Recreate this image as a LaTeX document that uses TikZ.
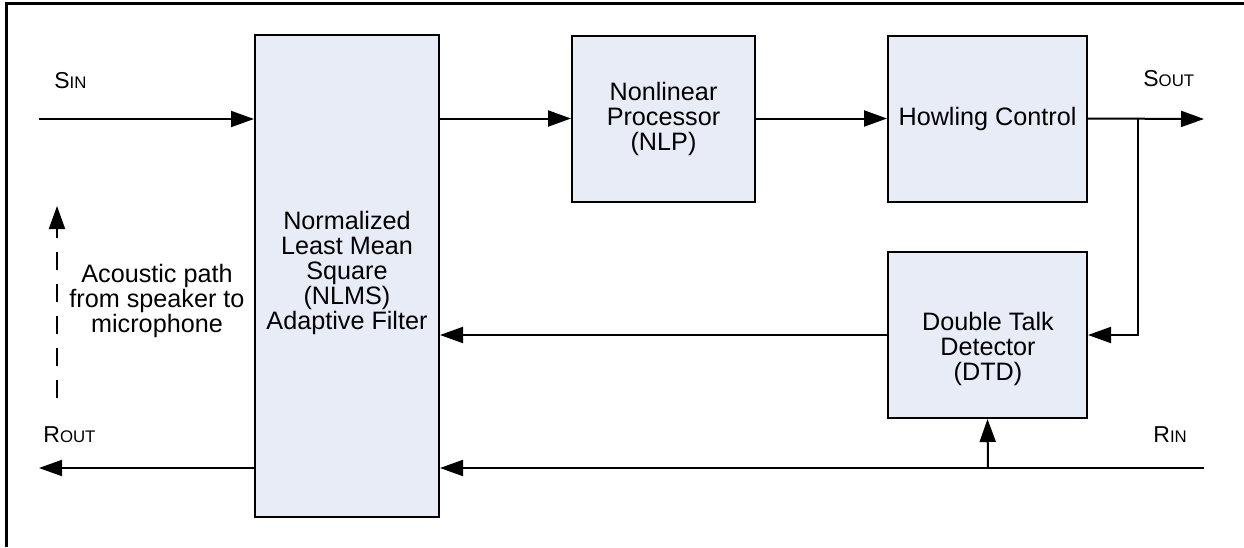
\documentclass[tikz,border=0pt]{standalone}
\usepackage{fontspec}
\setmainfont{Liberation Sans}
\usetikzlibrary{arrows.meta}
\definecolor{boxfill}{RGB}{232,236,247}
\begin{document}
\begin{tikzpicture}[x=0.5pt,y=-0.5pt,
  every node/.style={font=\fontsize{12.6}{12.5}\selectfont, inner sep=0pt},
  blk/.style={draw=black, line width=1pt, fill=boxfill, align=center},
  txt/.style={align=center},
  lbl/.style={anchor=base west, font=\fontsize{11.5}{12}\selectfont},
  conn/.style={line width=1pt, -{Triangle[length=11.5pt,width=8pt]}},
  frame/.style={line width=1.4pt}
]
\useasboundingbox (0,0) rectangle (1244,547);
% frame (left and top edges only visible)
\draw[frame] (6.5,547) -- (6.5,3.5) -- (1244,3.5);

% blocks
\node[blk, minimum width=92pt, minimum height=241pt] (nlms) at (347,276) {};
\node[txt] (nlmstext) at (347,273) {Normalized\\Least Mean\\Square\\(NLMS)\\Adaptive Filter};
\node[blk, minimum width=91.5pt, minimum height=83pt] (nlp) at (663.5,118.5) {Nonlinear\\Processor\\(NLP)};
\node[blk, minimum width=99.5pt, minimum height=83pt] (hc) at (987.5,118.5) {Howling Control};
\node[blk, minimum width=99.5pt, minimum height=83pt] (dtd) at (987.5,335) {};
\node[txt] (dtdtext) at (988,349) {Double Talk\\Detector\\(DTD)};

% acoustic path text
\node[txt] (acoustic) at (157,301) {Acoustic path\\from speaker to\\microphone};

% signal labels
\node[lbl] (sin) at (54,88) {S\fontsize{8.4}{10}\selectfont IN};
\node[lbl] (sout) at (1143,86) {S\fontsize{8.4}{10}\selectfont OUT};
\node[lbl] (rout) at (43,442) {R\fontsize{8.4}{10}\selectfont OUT};
\node[lbl] (rin) at (1153,442) {R\fontsize{8.4}{10}\selectfont IN};

% connector end points
\coordinate (sinstart) at (39,119);
\coordinate (soutend) at (1204,119);
\coordinate (branch) at (1138,119);
\coordinate (rinstart) at (1204,468);
\coordinate (routend) at (39,468);
\coordinate (rinbranch) at (988,468);
\coordinate (acbot) at (57,400);
\coordinate (acbase) at (57,229);
\coordinate (actop) at (57,206);

% connectors
\draw[conn] (sinstart) -- (sinstart -| nlms.west);
\draw[conn] (nlms.east |- nlp.west) -- (nlp.west);
\draw[conn] (nlp.east) -- (hc.west);
\draw[conn] (hc.east) -- (soutend);
\draw[conn] (branch) |- (dtd.east);
\draw[conn] (dtd.west) -- (dtd.west -| nlms.east);
\draw[conn] (rinstart) -- (rinstart -| nlms.east);
\draw[conn] (rinbranch) -- (dtd.south);
\draw[conn] (routend -| nlms.west) -- (routend);
\draw[line width=1pt, dash pattern=on 9pt off 7pt, dash phase=4.5pt] (acbase) -- (acbot);
\draw[conn] (acbase) -- (actop);
\end{tikzpicture}
\end{document}
